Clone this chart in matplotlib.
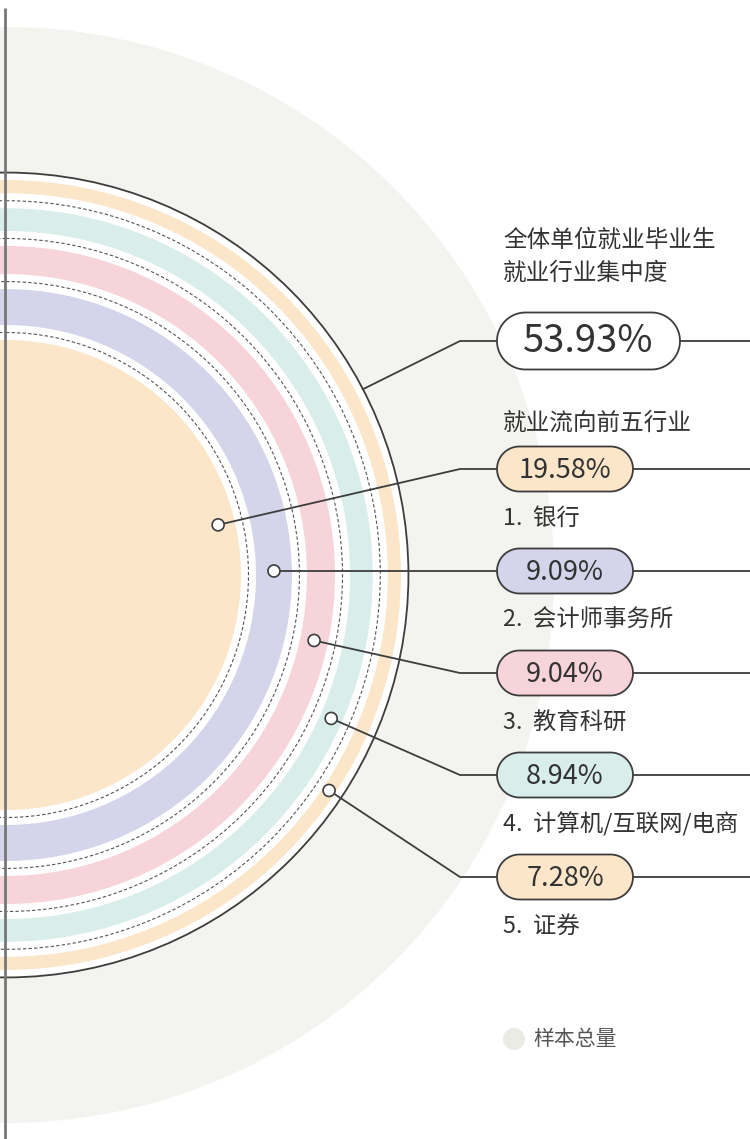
import numpy as np
import matplotlib
matplotlib.use("Agg")
import matplotlib.pyplot as plt
from matplotlib.patches import Circle, Wedge, Polygon

plt.rcParams['font.family'] = ['Noto Sans CJK SC', 'DejaVu Sans']

# ---- data ----
industries = ['银行', '会计师事务所', '教育科研', '计算机/互联网/电商', '证券']
shares = [19.58, 9.09, 9.04, 8.94, 7.28]
concentration = 53.93
sample_total = 100.0
title_lines = ['全体单位就业毕业生', '就业行业集中度']
subtitle = '就业流向前五行业'
legend_label = '样本总量'

# ---- style ----
ring_colors = ['#fce6c9', '#d4d4ea', '#f7d4da', '#d9eeea', '#fce6c9']
bg_gray = '#f3f3ef'
line_col = '#3d3d3d'
text_col = '#333333'

W, H = 750, 1139
fig = plt.figure(figsize=(W / 100, H / 100), dpi=100)
ax = fig.add_axes([0, 0, 1, 1])
ax.set_xlim(0, W)
ax.set_ylim(H, 0)
ax.axis('off')


def pill(x, yc, w, h, fc):
    r = h / 2
    t1 = np.linspace(np.pi / 2, 3 * np.pi / 2, 40)
    t2 = np.linspace(-np.pi / 2, np.pi / 2, 40)
    left = np.column_stack([x + r + r * np.cos(t1), yc - r * np.sin(t1)])
    right = np.column_stack([x + w - r + r * np.cos(t2), yc - r * np.sin(t2)])
    pts = np.vstack([left, right])
    return Polygon(pts, closed=True, facecolor=fc, edgecolor=line_col, lw=1.3, zorder=7)


cx, cy = 6, 575
R_total = 548
K = R_total / np.sqrt(sample_total)
gap = 7.5

cum = np.cumsum(shares)
radii = K * np.sqrt(cum)

ax.add_patch(Circle((cx, cy), R_total, color=bg_gray, lw=0, zorder=1))
ax.add_patch(Circle((cx, cy), radii[-1], facecolor='white', edgecolor=line_col, lw=1.3, zorder=2))

dot_pts = []
dot_angles = [13.3, 0.3, -12.0, -23.8, -33.7]
for i, (r_out, col) in enumerate(zip(radii, ring_colors)):
    r_in = 0 if i == 0 else radii[i - 1] + gap
    outer = r_out - gap
    if i == 0:
        ax.add_patch(Circle((cx, cy), outer, color=col, lw=0, zorder=3))
        rd = outer - 17
    else:
        ax.add_patch(Wedge((cx, cy), outer, -180, 180, width=outer - r_in, color=col, lw=0, zorder=3))
        rd = (outer + r_in) / 2
    if i < len(radii) - 1:
        ax.add_patch(Circle((cx, cy), r_out, fill=False, edgecolor='#555555', lw=0.8,
                            linestyle=(0, (3, 2)), zorder=4))
    a = np.deg2rad(dot_angles[i])
    dot_pts.append((cx + rd * np.cos(a), cy - rd * np.sin(a)))

ax.plot([5, 5], [8, H], color='#777777', lw=2, zorder=6, solid_capstyle='butt')

pill_x = 497
elbow_x = 460
pill_w, pill_h = 136, 45

ax.text(503, 240, title_lines[0], fontsize=17, color=text_col, va='center', ha='left', zorder=7)
ax.text(503, 273, title_lines[1], fontsize=17, color=text_col, va='center', ha='left', zorder=7)

big_y, big_w, big_h = 341, 183, 57
ax.add_patch(pill(pill_x, big_y, big_w, big_h, 'white'))
ax.text(pill_x + big_w / 2, big_y + 1, f'{concentration:.2f}%', fontsize=27.5, color=text_col,
        ha='center', va='center', fontweight='light', zorder=8)
a0 = np.deg2rad(27.5)
p0 = (cx + radii[-1] * np.cos(a0), cy - radii[-1] * np.sin(a0))
ax.plot([p0[0], elbow_x, pill_x], [p0[1], big_y, big_y], color=line_col, lw=1.3, zorder=6)
ax.plot([pill_x + big_w, W], [big_y, big_y], color=line_col, lw=1.3, zorder=6)

ax.text(503, 423, subtitle, fontsize=17, color=text_col, va='center', ha='left', zorder=7)

pill_y0, pill_step = 469, 102
for i, (name, val, col) in enumerate(zip(industries, shares, ring_colors)):
    py = pill_y0 + i * pill_step
    ax.add_patch(pill(pill_x, py, pill_w, pill_h, col))
    ax.text(pill_x + pill_w / 2, py + 1, f'{val:.2f}%', fontsize=19.5, color=text_col,
            ha='center', va='center', fontweight='light', zorder=8)
    ax.text(503, py + 49, f'{i+1}.  {name}', fontsize=16.8, color=text_col,
            ha='left', va='center', zorder=8)
    dx, dy = dot_pts[i]
    if abs(dy - py) < 4:
        xs, ys = [dx, pill_x], [py, py]
        dy = py
    else:
        xs, ys = [dx, elbow_x, pill_x], [dy, py, py]
    ax.plot(xs, ys, color=line_col, lw=1.3, zorder=6)
    ax.plot([pill_x + pill_w, W], [py, py], color=line_col, lw=1.3, zorder=6)
    ax.add_patch(Circle((dx, dy), 6, facecolor='white', edgecolor=line_col, lw=1.2, zorder=9))

ax.add_patch(Circle((514, 1039), 11, color='#ebebe6', lw=0, zorder=7))
ax.text(533, 1039, legend_label, fontsize=15, color='#555555', ha='left', va='center', zorder=8)

fig.savefig('out.png', dpi=100)
